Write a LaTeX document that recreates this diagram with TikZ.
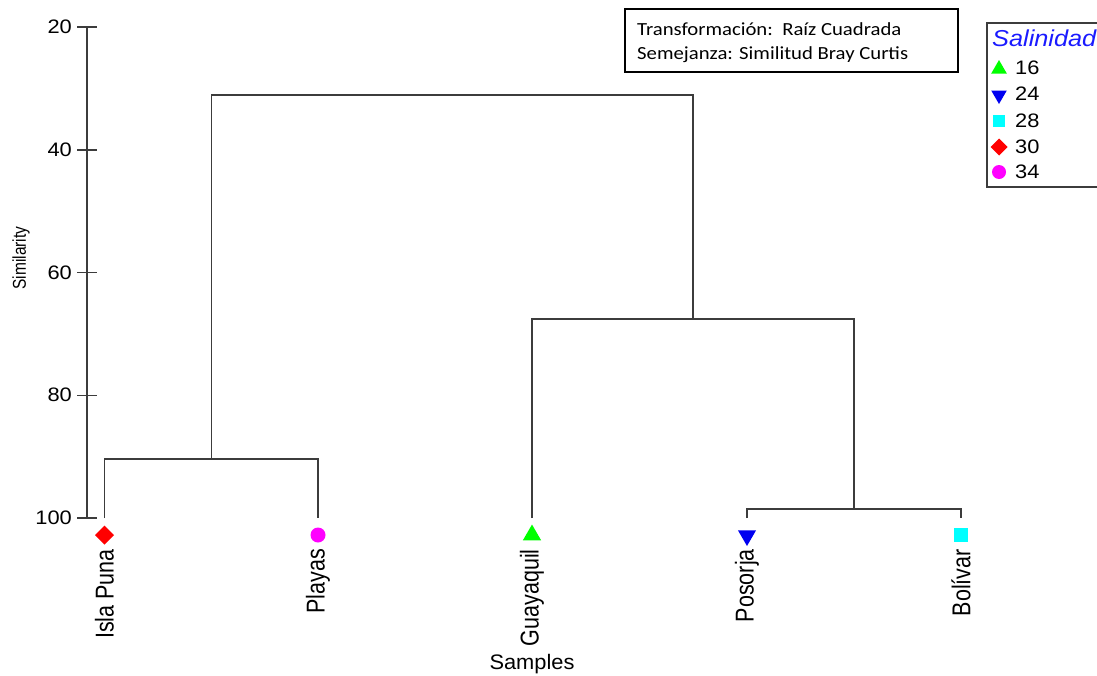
\documentclass[tikz,border=0pt]{standalone}
\usepackage{graphicx}
\usepackage{fontspec}
\setmainfont{Liberation Sans}
\newfontfamily\calib{Carlito}
\usetikzlibrary{shapes.geometric}
\definecolor{lncol}{HTML}{3C3C3C}
\definecolor{mgreen}{HTML}{00FF00}
\definecolor{mblue}{HTML}{0000F0}
\definecolor{mcyan}{HTML}{00FFFF}
\definecolor{mred}{HTML}{FF0000}
\definecolor{mmag}{HTML}{FF00FF}
\definecolor{legblue}{HTML}{1A1AFF}
\newcommand{\wx}[2][1.12]{\scalebox{#1}[1]{#2}}
\newcommand{\wy}[1]{\scalebox{1}[1.2]{#1}}
\tikzset{
  ln/.style={draw=lncol, line width=1.5pt},
  ticklab/.style={anchor=east, inner sep=0pt, font=\fontsize{19.5}{21}\selectfont},
  leaflab/.style={anchor=east, rotate=90, inner sep=0pt, font=\fontsize{21.5}{23}\selectfont},
  mk/.style={inner sep=0pt, outer sep=0pt, draw=none},
  triup/.style={mk, regular polygon, regular polygon sides=3, fill=mgreen, minimum size=#1},
  tridown/.style={mk, regular polygon, regular polygon sides=3, shape border rotate=180, fill=mblue, minimum size=#1},
  sq/.style={mk, rectangle, fill=mcyan, minimum size=#1},
  dia/.style={mk, diamond, fill=mred, minimum size=#1},
  circ/.style={mk, circle, fill=mmag, minimum size=#1},
  legtxt/.style={anchor=west, inner sep=0pt, font=\fontsize{19.5}{21}\selectfont},
  infotxt/.style={anchor=west, inner sep=0pt, font=\calib\fontsize{18.5}{20}\selectfont},
}
\begin{document}
\begin{tikzpicture}[x=1pt,y=-1pt]
\useasboundingbox (0,0) rectangle (1097,675);
\fill[white] (0,0) rectangle (1097,675);

% axis
\coordinate (atop) at (87,27);
\coordinate (abot) at (87,518);
\draw[ln] (atop) -- (abot);
\foreach \yy/\lab in {27/20,149.75/40,272.5/60,395.25/80,518/100}{
  \coordinate (tk\lab) at (87,\yy);
  \draw[ln] ([xshift=-10pt]tk\lab) -- ([xshift=10pt]tk\lab);
  \node[ticklab] (tl\lab) at (72,\yy) {\wx{\lab}};
}
\node[rotate=90, inner sep=0pt, font=\fontsize{15.5}{17}\selectfont] (ylab) at (21,258) {\wy{Similarity}};
\node[inner sep=0pt, font=\fontsize{21}{23}\selectfont] (xlab) at (532,664) {\wx[1.04]{Samples}};

% leaves
\coordinate (IP) at (104.5,518);
\coordinate (PL) at (318,518);
\coordinate (GU) at (532,518);
\coordinate (PO) at (747,518);
\coordinate (BO) at (961,518);

% merges
\coordinate (m1) at (211.25,459);
\coordinate (m2) at (854,509);
\coordinate (m3) at (693,319);
\coordinate (m4) at (452,95);

\draw[ln] (IP) -- (IP|-m1) -- (PL|-m1) -- (PL);
\draw[ln] (PO) -- (PO|-m2) -- (BO|-m2) -- (BO);
\draw[ln] (GU) -- (GU|-m3) -- (m2|-m3) -- (m2);
\draw[ln] (m1) -- (m1|-m4) -- (m3|-m4) -- (m3);

% markers
\node[dia=19pt] (kIP) at (104.5,535) {};
\node[circ=15pt] (kPL) at (318,535) {};
\node[triup=21pt] (kGU) at (532,535) {};
\node[tridown=21pt] (kPO) at (747,535.5) {};
\node[sq=14pt] (kBO) at (961,535) {};

% leaf labels
\node[leaflab] (tIP) at (104.5,549) {\wy{Isla Puna}};
\node[leaflab] (tPL) at (318,549) {\wy{Playas}};
\node[leaflab] (tGU) at (532,549) {\wy{Guayaquil}};
\node[leaflab] (tPO) at (747,549) {\wy{Posorja}};
\node[leaflab] (tBO) at (961,549) {\wy{Bolívar}};

% info box
\draw[draw=black, line width=1.2pt] (625,9) rectangle (958,72);
\node[infotxt] (info1) at (637,29) {\wx{Transformación:\ \ Raíz Cuadrada}};
\node[infotxt] (info2) at (637,55) {\wx{Semejanza: Similitud Bray Curtis}};

% legend
\draw[draw=lncol, line width=1.3pt] (1100,23) -- (987,23) -- (987,187) -- (1100,187);
\node[anchor=west, inner sep=0pt, text=legblue, font=\itshape\fontsize{23}{25}\selectfont] (legt) at (992,38) {\wx[1.1]{Salinidad}};
\node[triup=18pt] (g1) at (999,69) {};
\node[legtxt] (l1) at (1015,68) {\wx{16}};
\node[tridown=18pt] (g2) at (999,95) {};
\node[legtxt] (l2) at (1015,94) {\wx{24}};
\node[sq=12pt] (g3) at (999,121) {};
\node[legtxt] (l3) at (1015,121) {\wx{28}};
\node[dia=17pt] (g4) at (999,147) {};
\node[legtxt] (l4) at (1015,147) {\wx{30}};
\node[circ=14pt] (g5) at (999,172) {};
\node[legtxt] (l5) at (1015,172) {\wx{34}};
\end{tikzpicture}
\end{document}
